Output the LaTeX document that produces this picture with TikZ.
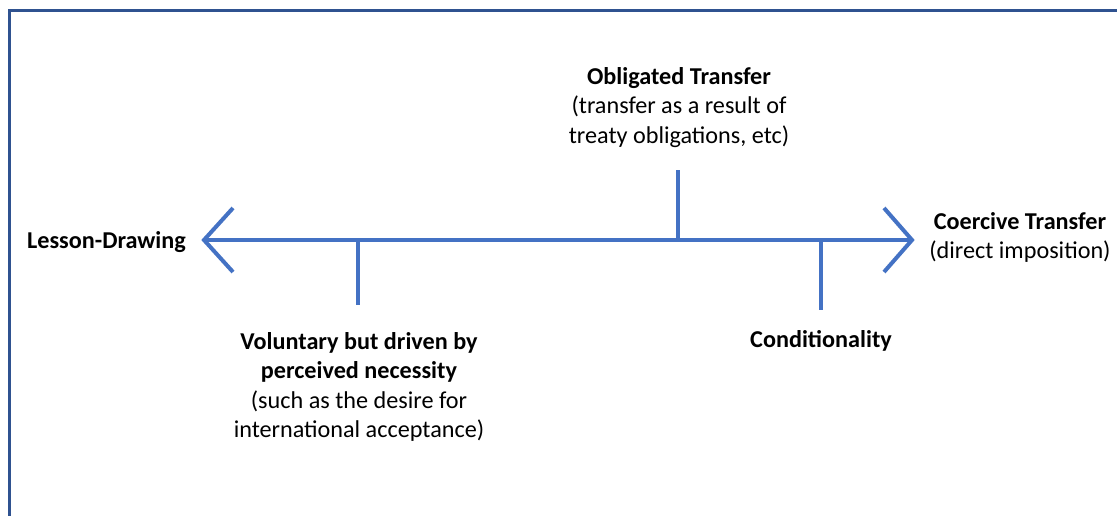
\documentclass[tikz,border=0pt]{standalone}
\usepackage{fontspec}
\setmainfont{Carlito}
\definecolor{axisblue}{HTML}{4472C4}
\definecolor{frameblue}{HTML}{2F5290}
\begin{document}
\begin{tikzpicture}[x=1pt,y=-1pt,
  axis/.style={draw=axisblue,line width=4pt},
  lbl/.style={align=center,font=\fontsize{24.2}{29.5}\selectfont,inner sep=0pt,text=black}]
\useasboundingbox (0,0) rectangle (1117,516);
\fill[white] (0,0) rectangle (1117,516);
\draw[frameblue,line width=3pt] (9.5,516) -- (9.5,10.5) -- (1117,10.5);
\coordinate (L) at (204,240);
\coordinate (R) at (912,240);
\coordinate (t1) at (358,240);
\coordinate (t1e) at (358,305);
\coordinate (t2) at (678,240);
\coordinate (t2e) at (678,170);
\coordinate (t3) at (821,240);
\coordinate (t3e) at (821,310);
\draw[axis] (L) -- (R);
\draw[axis,line join=miter] (233,208) -- (L) -- (233,272);
\draw[axis,line join=miter] (884,208) -- (R) -- (884,272);
\draw[axis] (t1) -- (t1e);
\draw[axis] (t2) -- (t2e);
\draw[axis] (t3) -- (t3e);
\node[lbl] (lesson) at (106.5,242) {\textbf{Lesson-Drawing}};
\node[lbl] (coer) at (1020,237.5) {\textbf{Coercive Transfer}\\(direct imposition)};
\node[lbl] (oblig) at (679,107.5) {\textbf{Obligated Transfer}\\(transfer as a result of\\treaty obligations, etc)};
\node[lbl] (vol) at (359,387) {\textbf{Voluntary but driven by}\\\textbf{perceived necessity}\\(such as the desire for\\international acceptance)};
\node[lbl] (cond) at (821,341) {\textbf{Conditionality}};
\end{tikzpicture}
\end{document}
